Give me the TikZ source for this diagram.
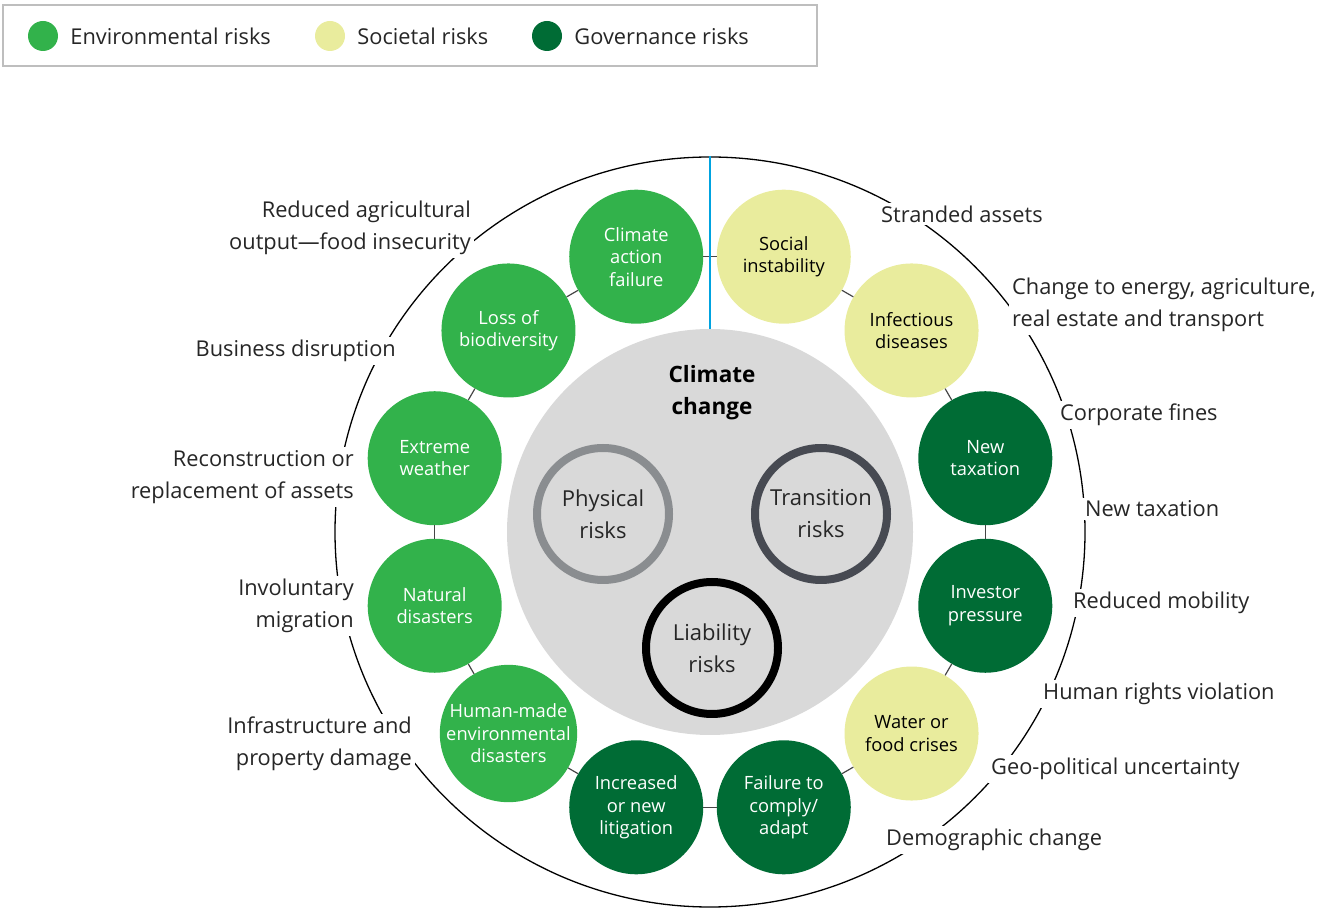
\documentclass[tikz,border=0pt]{standalone}
\usepackage{fontspec}
\setmainfont{Open Sans}
\usepackage{tikz}
\usetikzlibrary{positioning}
\definecolor{envgreen}{RGB}{50,178,75}
\definecolor{socyellow}{RGB}{233,236,157}
\definecolor{govgreen}{RGB}{0,108,53}
\definecolor{coregray}{RGB}{217,217,217}
\definecolor{physgray}{RGB}{138,141,144}
\definecolor{transgray}{RGB}{71,74,82}
\definecolor{divblue}{RGB}{0,163,224}
\definecolor{boxgray}{RGB}{190,190,190}
\definecolor{txtgray}{RGB}{38,38,38}
\definecolor{linkgray}{RGB}{70,70,70}

\tikzset{
  risk/.style={circle,minimum size=134pt,inner sep=0pt,align=center,font=\fontsize{18.3}{22.5}\selectfont},
  env/.style={risk,fill=envgreen,text=white},
  soc/.style={risk,fill=socyellow,text=black},
  gov/.style={risk,fill=govgreen,text=white},
  kind/.style={circle,draw,line width=8pt,minimum size=132pt,inner sep=0pt,align=center,text=txtgray,font=\fontsize{22}{32}\selectfont},
  effect/.style={fill=white,inner sep=3pt,text=txtgray,font=\fontsize{21.8}{32}\selectfont},
  key/.style={circle,minimum size=30pt,inner sep=0pt},
  keytext/.style={inner sep=0pt,text=txtgray,font=\fontsize{21.8}{24}\selectfont},
}

\begin{document}
\begin{tikzpicture}[x=1pt,y=1pt]
		\useasboundingbox (0,0) rectangle (1323,908);
		%legend
		\draw [boxgray,line width=1.5pt] (3,842) rectangle (817,903);
		\node [key,fill=envgreen] (kenv) at (43,872) {};
		\node [keytext,right=12pt of kenv] {Environmental risks};
		\node [key,fill=socyellow] (ksoc) at (330,872) {};
		\node [keytext,right=12pt of ksoc] {Societal risks};
		\node [key,fill=govgreen] (kgov) at (547,872) {};
		\node [keytext,right=12pt of kgov] {Governance risks};
		%outer ring and core
		\coordinate (o) at (710,376);
		\node [circle,draw,line width=1.3pt,minimum size=750pt,inner sep=0pt] (ring) at (o) {};
		\node [circle,fill=coregray,minimum size=406pt,inner sep=0pt] (core) at (o) {};
		\node [font=\bfseries\fontsize{22.5}{32}\selectfont,align=center] (cc) at (712,515) {Climate\\change};
		\node [kind,draw=physgray] (phys) at (603,394) {Physical\\risks};
		\node [kind,draw=transgray] (trans) at (821,394) {Transition\\risks};
		\node [kind,draw=black] (liab) at (712,260) {Liability\\risks};
		%the twelve risks round the core
		\foreach \i/\a/\k/\t in {1/105/env/{Climate\\action\\failure},
				2/135/env/{Loss of\\biodiversity},
				3/165/env/{Extreme\\weather},
				4/195/env/{Natural\\disasters},
				5/225/env/{Human-made\\environmental\\disasters},
				6/255/gov/{Increased\\or new\\litigation},
				7/285/gov/{Failure to\\comply/\\adapt},
				8/315/soc/{Water or\\food crises},
				9/345/gov/{Investor\\pressure},
				10/15/gov/{New\\taxation},
				11/45/soc/{Infectious\\diseases},
				12/75/soc/{Social\\instability}}
			\node [\k] (r\i) at ([shift={(\a:285)}]o) {\t};
		\foreach \i/\j in {1/2,2/3,3/4,4/5,5/6,6/7,7/8,8/9,9/10,10/11,11/12,12/1}
			\draw [linkgray,line width=1.2pt] (r\i) -- (r\j);
		\draw [divblue,line width=2.5pt] (ring.north) -- (core.north);
		%effects on the ring
		\node [effect,anchor=east,align=right] (e1) at (474,680) {Reduced agricultural\\output---food insecurity};
		\node [effect,anchor=east] (e2) at (399,557) {Business disruption};
		\node [effect,anchor=east,align=right] (e3) at (357,431) {Reconstruction or\\replacement of assets};
		\node [effect,anchor=east,align=right] (e4) at (357,302) {Involuntary\\migration};
		\node [effect,anchor=east,align=right] (e5) at (415,164) {Infrastructure and\\property damage};
		\node [effect,anchor=west] (e6) at (878,694) {Stranded assets};
		\node [effect,anchor=west,align=left] (e7) at (1009,603) {Change to energy, agriculture,\\real estate and transport};
		\node [effect,anchor=west] (e8) at (1057,493) {Corporate fines};
		\node [effect,anchor=west] (e9) at (1082,399) {New taxation};
		\node [effect,anchor=west] (e10) at (1070,305) {Reduced mobility};
		\node [effect,anchor=west] (e11) at (1040,214) {Human rights violation};
		\node [effect,anchor=west] (e12) at (988,139) {Geo-political uncertainty};
		\node [effect,anchor=west] (e13) at (883,68) {Demographic change};
\end{tikzpicture}
\end{document}
